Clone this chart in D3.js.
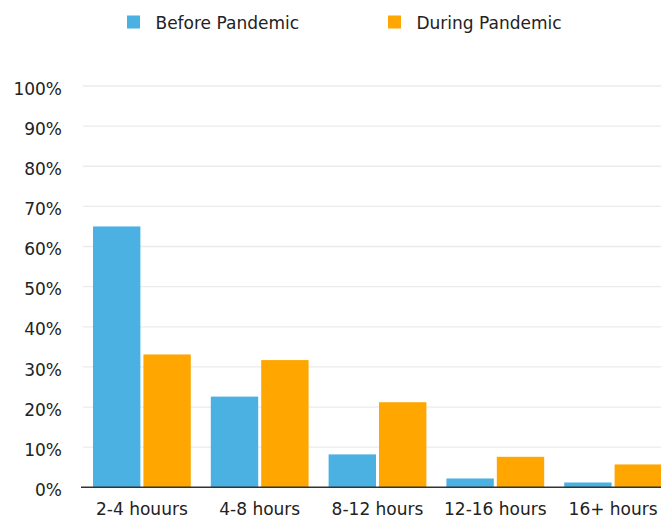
<!DOCTYPE html>
<html>
<head>
<meta charset="utf-8">
<script src="https://cdn.jsdelivr.net/npm/d3@7"></script>
<style>
  body { margin: 0; background: #fff; }
  svg text { font-family: "DejaVu Sans", Verdana, sans-serif; fill: #222; }
</style>
</head>
<body>
<script>
// chart data
var categories = ['2-4 houurs', '4-8 hours', '8-12 hours', '12-16 hours', '16+ hours'];
var seriesNames = ['Before Pandemic', 'During Pandemic'];
var beforeValues = [65, 22.6, 8.2, 2.2, 1.2];
var duringValues = [33.1, 31.7, 21.2, 7.6, 5.7];
var yTicks = [0, 10, 20, 30, 40, 50, 60, 70, 80, 90, 100];
var colors = ['#4ab1e2', '#ffa600'];

var w = 661, h = 519;
var svg = d3.select('body').append('svg')
  .attr('width', w)
  .attr('height', h);

var rows = categories.map(function(c, i){
  return {cat: c, vals: [beforeValues[i], duringValues[i]]};
});

// scales
var x0 = d3.scaleBand()
  .domain(categories)
  .range([83, 672])
  .paddingInner(0.17)
  .paddingOuter(0.085);
var x1 = d3.scaleBand()
  .domain([0, 1])
  .range([0, x0.bandwidth()])
  .paddingInner(0.06);
var y = d3.scaleLinear()
  .domain([0, 100])
  .range([487.3, 86]);

// gridlines
svg.append('g').selectAll('line')
  .data(yTicks.filter(function(d){ return d > 0; }))
  .join('line')
  .attr('x1', 83).attr('x2', w)
  .attr('y1', function(d){ return y(d); })
  .attr('y2', function(d){ return y(d); })
  .attr('stroke', '#ebebeb')
  .attr('stroke-width', 1.3);

// y axis labels
var yAxis = d3.axisLeft(y).tickValues(yTicks).tickSize(0).tickPadding(0)
  .tickFormat(function(d){ return d + '%'; });
var gy = svg.append('g').attr('transform', 'translate(62,0)').call(yAxis);
gy.select('.domain').remove();
gy.selectAll('text')
  .attr('font-size', 17)
  .attr('dy', '0.48em')
  .attr('font-family', '"DejaVu Sans", Verdana, sans-serif')
  .attr('fill', '#222');

// bars
var g = svg.append('g').selectAll('g')
  .data(rows)
  .join('g')
  .attr('transform', function(d){ return 'translate(' + x0(d.cat) + ',0)'; });
g.selectAll('rect')
  .data(function(d){ return d.vals; })
  .join('rect')
  .attr('x', function(d, i){ return x1(i); })
  .attr('y', function(d){ return y(d); })
  .attr('width', x1.bandwidth())
  .attr('height', function(d){ return y(0) - y(d); })
  .attr('fill', function(d, i){ return colors[i]; });

// baseline + category labels
var xAxis = d3.axisBottom(x0).tickSize(0).tickPadding(15.5);
var gx = svg.append('g').attr('transform', 'translate(0,' + y(0) + ')').call(xAxis);
gx.select('.domain').remove();
gx.selectAll('text')
  .attr('font-size', 17)
  .attr('font-family', '"DejaVu Sans", Verdana, sans-serif')
  .attr('fill', '#222');
svg.append('line')
  .attr('x1', 81).attr('x2', w)
  .attr('y1', y(0)).attr('y2', y(0))
  .attr('stroke', '#333').attr('stroke-width', 1.5);

// legend
var legX = [127, 388];
var leg = svg.append('g').selectAll('g')
  .data(seriesNames)
  .join('g')
  .attr('transform', function(d, i){ return 'translate(' + legX[i] + ',15.5)'; });
leg.append('rect')
  .attr('width', 13).attr('height', 13)
  .attr('fill', function(d, i){ return colors[i]; });
leg.append('text')
  .attr('x', 28.5).attr('y', 13.5)
  .attr('font-size', 17)
  .text(function(d){ return d; });
</script>
</body>
</html>
